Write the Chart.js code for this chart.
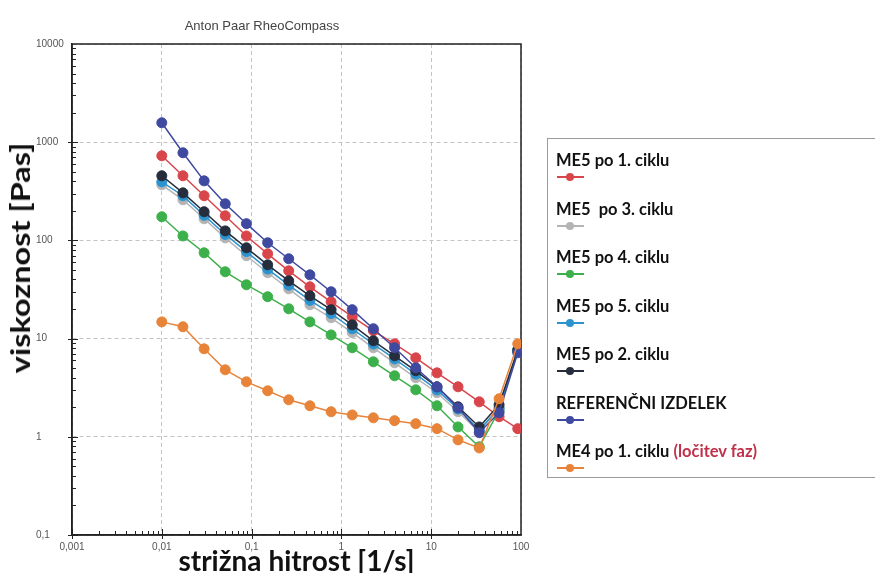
<!DOCTYPE html>
<html>
<head>
<meta charset="utf-8">
<script src="https://cdn.jsdelivr.net/npm/chart.js@4.4.0/dist/chart.umd.min.js"></script>
<style>
  body { margin: 0; background: #fff; }
  #wrap { position: relative; width: 875px; height: 573px; overflow: hidden; background: #fff; }
  #chartTitle {
    position: absolute; left: 262px; top: 25px; transform: translate(-50%, -50%);
    font: 13px "Liberation Sans", Arial, sans-serif; color: #444; white-space: nowrap;
  }
  #yTitle {
    position: absolute; left: 20px; top: 258px;
    transform: translate(-50%, -50%) rotate(-90deg) scaleX(1.25);
    font: bold 26px Lato, sans-serif; color: #111; white-space: nowrap;
  }
  #legend {
    position: absolute; left: 547px; top: 138px; width: 360px; height: 340px;
    border: 1px solid #9a9a9a; box-sizing: border-box;
  }
  .lg-text {
    position: absolute; left: 8px; font: bold 16.5px Lato, sans-serif; color: #111;
    white-space: pre; transform: translateY(-50%);
  }
  .lg-text span { color: #c0304a; }
  .lg-line { position: absolute; left: 9px; width: 27px; height: 2px; }
  .lg-dot { position: absolute; width: 8px; height: 8px; border-radius: 50%; }
</style>
</head>
<body>
<div id="wrap">
  <canvas id="rheoChart" width="875" height="573"></canvas>
  <div id="chartTitle"></div>
  <div id="yTitle"></div>
  <div id="legend"></div>
</div>
<script>
// shear rate points (1/s)
const shearRate = [0.01, 0.0172, 0.0296, 0.0509, 0.0876, 0.151, 0.259, 0.446, 0.768,
  1.32, 2.27, 3.91, 6.73, 11.6, 19.9, 34.3, 57, 92];

// viscosity (Pas) per sample
const me5Cycle1 = [727, 455, 285, 178, 111, 73, 49, 33.7, 23.7, 16.7, 12.0, 8.85, 6.37, 4.48, 3.23, 2.27, 1.60, 1.21];
const me5Cycle3 = [368, 259, 166, 106, 69.7, 46.8, 32.1, 22.1, 16.3, 11.5, 8.06, 5.67, 3.99, 2.81, 1.80, 1.12, 1.97, 7.34];
const me5Cycle4 = [174, 111, 74.8, 47.9, 35.3, 26.7, 20.1, 14.8, 10.9, 8.06, 5.80, 4.18, 3.01, 2.07, 1.26, 0.79, 1.85, 7.6];
const me5Cycle5 = [395, 285, 180, 115, 77, 51, 35, 24.5, 18, 12.6, 8.8, 6.2, 4.35, 3.0, 1.92, 1.18, 1.95, 7.5];
const me5Cycle2 = [455, 305, 196, 125, 84, 56.4, 38.8, 27.3, 19.7, 13.8, 9.5, 6.68, 4.70, 3.23, 2.02, 1.26, 2.12, 7.69];
const reference = [1577, 780, 404, 236, 148, 94.6, 65, 44.6, 30, 19.7, 12.6, 8.06, 5.04, 3.23, 1.97, 1.10, 1.76, 7.17];
const me4Cycle1 = [14.8, 13.2, 7.87, 4.81, 3.63, 2.94, 2.38, 2.07, 1.80, 1.67, 1.56, 1.46, 1.36, 1.21, 0.93, 0.77, 2.44, 8.85];

const seriesNames = ["ME5 po 1. ciklu", "ME5  po 3. ciklu", "ME5 po 4. ciklu", "ME5 po 5. ciklu",
  "ME5 po 2. ciklu", "REFERENČNI IZDELEK", "ME4 po 1. ciklu"];
const seriesNotes = ["", "", "", "", "", "", "(ločitev faz)"];
const seriesValues = [me5Cycle1, me5Cycle3, me5Cycle4, me5Cycle5, me5Cycle2, reference, me4Cycle1];
const seriesColors = ["#d8464c", "#b4b4b4", "#3cb04a", "#2b93cf", "#262d3d", "#3f49a0", "#e8843a"];

const xTickValues = [0.001, 0.01, 0.1, 1, 10, 100];
const xTickLabels = ["0,001", "0,01", "0,1", "1", "10", "100"];
const yTickValues = [0.1, 1, 10, 100, 1000, 10000];
const yTickLabels = ["0,1", "1", "10", "100", "1000", "10000"];

const chartTitle = "Anton Paar RheoCompass";
const xTitle = "strižna hitrost [1/s]";
const yTitle = "viskoznost [Pas]";

// frame round the plot plus small inner minor ticks
const frameTicks = {
  id: "frameTicks",
  beforeDatasetsDraw(chart) {
    const { ctx, chartArea: a, scales: { x, y } } = chart;
    ctx.save();
    ctx.strokeStyle = "#222";
    ctx.lineWidth = 1.5;
    ctx.strokeRect(a.left, a.top, a.right - a.left, a.bottom - a.top);
    ctx.lineWidth = 1;
    ctx.beginPath();
    for (let e = -3; e < 2; e++) {
      for (let m = 1; m < 10; m++) {
        const px = Math.round(x.getPixelForValue(m * Math.pow(10, e))) + 0.5;
        ctx.moveTo(px, a.bottom + (m === 1 ? 4 : 0));
        ctx.lineTo(px, a.bottom - (m === 1 ? 6 : 4));
      }
    }
    for (let e = -1; e < 4; e++) {
      for (let m = 1; m < 10; m++) {
        const py = Math.round(y.getPixelForValue(m * Math.pow(10, e))) + 0.5;
        ctx.moveTo(a.left - (m === 1 ? 4 : 0), py);
        ctx.lineTo(a.left + (m === 1 ? 6 : 4), py);
      }
    }
    ctx.stroke();
    ctx.restore();
  },
};

document.addEventListener("DOMContentLoaded", function () {
  const ctx = document.getElementById("rheoChart");
  document.getElementById("chartTitle").textContent = chartTitle;
  document.getElementById("yTitle").textContent = yTitle;

  const datasets = seriesNames.map(function (name, s) {
    return {
      label: name,
      data: shearRate.map(function (x, i) {
        return { x: x, y: seriesValues[s][i] };
      }),
      borderColor: seriesColors[s],
      backgroundColor: seriesColors[s],
      borderWidth: 1.5,
      pointRadius: 5,
      pointBorderWidth: 1,
      tension: 0,
      order: seriesNames.length - s,
    };
  });

  new Chart(ctx, {
    type: "line",
    data: { datasets: datasets },
    options: {
      responsive: false,
      animation: false,
      layout: { padding: { top: 44, left: 36, right: 354, bottom: 0 } },
      plugins: {
        legend: { display: false },
        tooltip: { enabled: false },
      },
      scales: {
        x: {
          type: "logarithmic",
          min: 0.001,
          max: 100,
          afterBuildTicks: function (scale) {
            scale.ticks = xTickValues.map(function (v) { return { value: v }; });
          },
          afterFit: function (scale) { scale.height = 38; },
          ticks: {
            autoSkip: false,
            maxRotation: 0,
            padding: 6,
            color: "#555",
            font: { family: "Liberation Sans", size: 10 },
            callback: function (value, index) { return xTickLabels[index]; },
          },
          grid: { color: "#c4c4c4", drawTicks: false },
          border: { color: "#222", width: 1.5, dash: [4, 3] },
          title: {
            display: true,
            text: xTitle,
            color: "#111",
            font: { family: "Lato", size: 28, weight: "bold", lineHeight: 1 },
            padding: { top: 0, bottom: -3 },
          },
        },
        y: {
          type: "logarithmic",
          min: 0.1,
          max: 10000,
          afterBuildTicks: function (scale) {
            scale.ticks = yTickValues.map(function (v) { return { value: v }; });
          },
          afterFit: function (scale) { scale.width = 36; },
          ticks: {
            autoSkip: false,
            crossAlign: "far",
            color: "#555",
            font: { family: "Liberation Sans", size: 10 },
            callback: function (value, index) { return yTickLabels[index]; },
          },
          grid: { color: "#c4c4c4", drawTicks: false },
          border: { color: "#222", width: 1.5, dash: [4, 3] },
        },
      },
    },
    plugins: [frameTicks],
  });

  // legend box: label on top, line marker underneath
  const legend = document.getElementById("legend");
  seriesNames.forEach(function (name, s) {
    const top = 21 + 48.5 * s;
    const text = document.createElement("div");
    text.className = "lg-text";
    text.style.top = top + "px";
    text.textContent = name + " ";
    if (seriesNotes[s]) {
      const note = document.createElement("span");
      note.textContent = seriesNotes[s];
      text.appendChild(note);
    }
    legend.appendChild(text);

    const line = document.createElement("div");
    line.className = "lg-line";
    line.style.top = (top + 16) + "px";
    line.style.background = seriesColors[s];
    legend.appendChild(line);

    const dot = document.createElement("div");
    dot.className = "lg-dot";
    dot.style.left = "18px";
    dot.style.top = (top + 13) + "px";
    dot.style.background = seriesColors[s];
    legend.appendChild(dot);
  });
});
</script>
</body>
</html>
